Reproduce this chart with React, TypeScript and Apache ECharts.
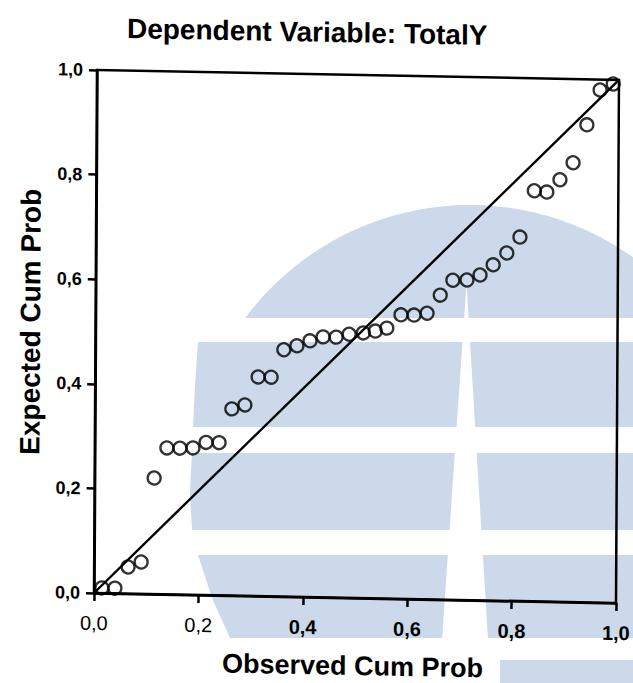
import React, { useEffect, useRef } from 'react';
import * as echarts from 'echarts';

// Normal P-P plot of regression standardized residuals
const observedCumProb = [
  0.015, 0.040, 0.065, 0.090, 0.114, 0.138, 0.163, 0.188, 0.213, 0.238,
  0.262, 0.287, 0.312, 0.337, 0.361, 0.386, 0.411, 0.436, 0.461, 0.486,
  0.513, 0.536, 0.558, 0.585, 0.610, 0.635, 0.660, 0.684, 0.711, 0.736,
  0.761, 0.787, 0.812, 0.839, 0.863, 0.888, 0.913, 0.939, 0.964, 0.989,
];
const expectedCumProb = [
  0.010, 0.010, 0.051, 0.061, 0.222, 0.280, 0.280, 0.281, 0.292, 0.292,
  0.357, 0.365, 0.419, 0.419, 0.472, 0.480, 0.490, 0.498, 0.498, 0.504,
  0.507, 0.511, 0.517, 0.543, 0.543, 0.547, 0.582, 0.611, 0.612, 0.622,
  0.642, 0.665, 0.696, 0.785, 0.783, 0.807, 0.840, 0.913, 0.980, 0.992,
];
const referenceLine = [
  [0, 0],
  [1, 1],
];
const titleText = 'Dependent Variable: TotalY';
const xAxisName = 'Observed Cum Prob';
const yAxisName = 'Expected Cum Prob';

const FONT = "'Liberation Sans', Arial, Helvetica, sans-serif";
const INK = '#000';
const LOGO_BLUE = '#ccd9ea';

const fmtTick = (v: number) => v.toFixed(1).replace('.', ',');

// Background emblem: a disc cut into horizontal bands with a narrow vertical wedge
function emblemGraphics() {
  const cx = 470;
  const cy = 485;
  const r = 280;
  const capBottom = 318;
  const t0 = Math.acos((cy - capBottom) / r);
  const cap: number[][] = [];
  for (let i = 0; i <= 80; i++) {
    const t = -t0 + (2 * t0 * i) / 80;
    cap.push([cx + r * Math.sin(t), cy - r * Math.cos(t)]);
  }
  const fillStyle = { fill: LOGO_BLUE };
  return [
    { type: 'polygon', shape: { points: cap }, style: fillStyle, silent: true },
    {
      type: 'polygon',
      shape: { points: [[198, 342], [640, 342], [640, 427], [193, 427], [195, 385]] },
      style: fillStyle,
      silent: true,
    },
    {
      type: 'polygon',
      shape: { points: [[192, 453], [640, 453], [640, 530], [192, 530], [190, 491]] },
      style: fillStyle,
      silent: true,
    },
    {
      type: 'polygon',
      shape: { points: [[198, 555], [640, 555], [640, 638], [230, 638], [212, 598]] },
      style: fillStyle,
      silent: true,
    },
    {
      type: 'polygon',
      shape: { points: [[500, 660], [640, 660], [640, 690], [500, 690]] },
      style: fillStyle,
      silent: true,
    },
    {
      type: 'polygon',
      shape: { points: [[466.5, 283], [488, 640], [442, 640]] },
      style: { fill: '#ffffff' },
      silent: true,
    },
  ];
}

export default function App() {
  const bgRef = useRef<HTMLDivElement>(null);
  const fgRef = useRef<HTMLDivElement>(null);

  useEffect(() => {
    const bg = echarts.init(bgRef.current as HTMLDivElement, null, { renderer: 'svg' });
    const fg = echarts.init(fgRef.current as HTMLDivElement, null, { renderer: 'svg' });

    bg.setOption({
      animation: false,
      backgroundColor: '#ffffff',
      graphic: emblemGraphics(),
    });

    const points = observedCumProb.map((x, i) => [x, expectedCumProb[i]]);

    const axisCommon = {
      type: 'value',
      min: 0,
      max: 1,
      interval: 0.2,
      splitLine: { show: false },
      axisLine: { show: true, lineStyle: { color: INK, width: 2.5 } },
      axisTick: { show: true, inside: false, length: 8, lineStyle: { color: INK, width: 2.5 } },
    };

    fg.setOption({
      animation: false,
      grid: {
        left: 94,
        top: 70,
        width: 522,
        height: 523,
        show: true,
        borderColor: INK,
        borderWidth: 2.5,
        backgroundColor: 'transparent',
      },
      xAxis: {
        ...axisCommon,
        axisLabel: {
          margin: 20,
          fontFamily: FONT,
          fontSize: 20,
          color: INK,
          formatter: (v: number) => (v < 0.3 ? `{n|${fmtTick(v)}}` : `{b|${fmtTick(v)}}`),
          rich: {
            n: { fontFamily: FONT, fontSize: 20, fontWeight: 'normal', color: INK },
            b: { fontFamily: FONT, fontSize: 20, fontWeight: 'bold', color: INK },
          },
        },
      },
      yAxis: {
        ...axisCommon,
        axisLabel: {
          margin: 14,
          fontFamily: FONT,
          fontSize: 18,
          fontWeight: 'bold',
          color: INK,
          formatter: fmtTick,
        },
      },
      series: [
        {
          type: 'line',
          data: referenceLine,
          symbol: 'none',
          silent: true,
          lineStyle: { color: INK, width: 2.4 },
          z: 2,
        },
        {
          type: 'scatter',
          data: points,
          symbol: 'circle',
          symbolSize: 13,
          silent: true,
          itemStyle: { color: 'rgba(0,0,0,0)', borderColor: INK, borderWidth: 2.3 },
          z: 3,
        },
      ],
      graphic: [
        {
          type: 'text',
          x: 304,
          y: 28,
          silent: true,
          style: {
            text: titleText,
            fontFamily: FONT,
            fontSize: 28,
            fontWeight: 'bold',
            fill: INK,
            textAlign: 'center',
            textVerticalAlign: 'middle',
          },
        },
        {
          type: 'text',
          x: 353,
          y: 661,
          silent: true,
          style: {
            text: xAxisName,
            fontFamily: FONT,
            fontSize: 27,
            fontWeight: 'bold',
            fill: INK,
            textAlign: 'center',
            textVerticalAlign: 'middle',
          },
        },
        {
          type: 'text',
          x: 29,
          y: 323,
          rotation: Math.PI / 2,
          silent: true,
          style: {
            text: yAxisName,
            fontFamily: FONT,
            fontSize: 28,
            fontWeight: 'bold',
            fill: INK,
            textAlign: 'center',
            textVerticalAlign: 'middle',
          },
        },
      ],
    });

    return () => {
      bg.dispose();
      fg.dispose();
    };
  }, []);

  return (
    <div
      style={{
        position: 'fixed',
        left: 0,
        top: 0,
        width: 633,
        height: 683,
        background: '#ffffff',
        overflow: 'hidden',
      }}
    >
      <div ref={bgRef} style={{ position: 'absolute', left: 0, top: 0, width: 633, height: 683 }} />
      <div
        ref={fgRef}
        style={{
          position: 'absolute',
          left: 0,
          top: 0,
          width: 633,
          height: 683,
          transform: 'matrix(1, 0.019, -0.0057, 1, 0, 0)',
          transformOrigin: '94px 593px',
        }}
      />
    </div>
  );
}
